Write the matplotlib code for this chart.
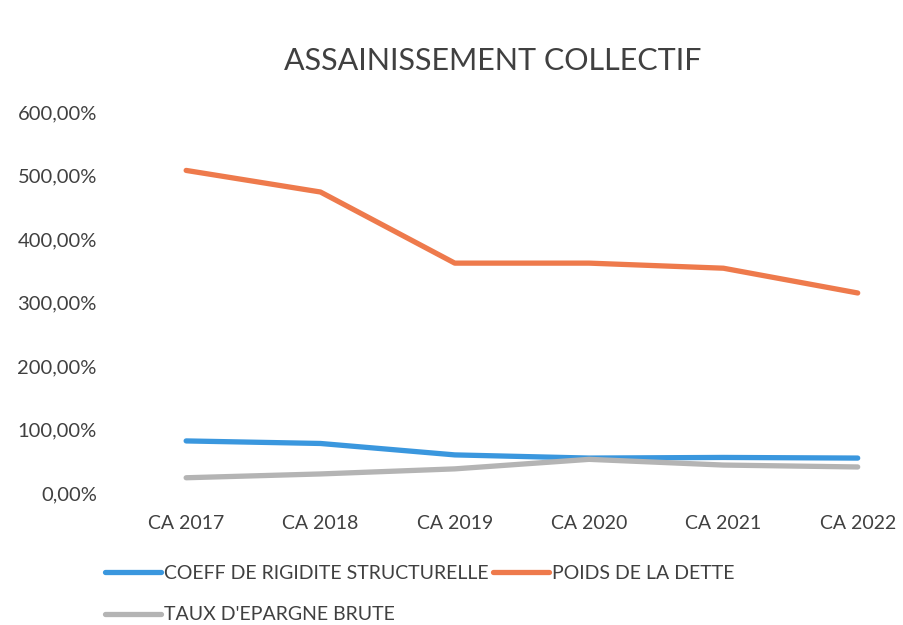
import matplotlib
matplotlib.use("Agg")
import matplotlib.pyplot as plt
from matplotlib.ticker import FuncFormatter

categories = ["CA 2017", "CA 2018", "CA 2019", "CA 2020", "CA 2021", "CA 2022"]
coeff_rigidite = [82, 78, 60, 55, 56, 55]
poids_dette = [508, 474, 362, 362, 354, 315]
taux_epargne = [24, 30, 38, 53, 44, 41]

plt.rcParams['font.family'] = ['Lato', 'DejaVu Sans']
text_color = "#404040"

fig = plt.figure(figsize=(9.04, 6.25), dpi=100)
ax = fig.add_axes([119/904, (625-493)/625, (898-119)/904, (493-112)/625])

x = list(range(len(categories)))
l1, = ax.plot(x, coeff_rigidite, color="#3A97DE", lw=3.8, solid_capstyle="round",
              label="COEFF DE RIGIDITE STRUCTURELLE")
l2, = ax.plot(x, poids_dette, color="#EE7A4C", lw=3.8, solid_capstyle="round",
              label="POIDS DE LA DETTE")
l3, = ax.plot(x, taux_epargne, color="#B4B4B4", lw=3.8, solid_capstyle="round",
              label="TAUX D'EPARGNE BRUTE")

ax.set_xlim(-0.5, 5.3)
ax.set_ylim(0, 600)
ax.set_yticks([0, 100, 200, 300, 400, 500, 600])
ax.yaxis.set_major_formatter(FuncFormatter(lambda v, p: f"{v:.2f}".replace(".", ",") + "%"))
ax.set_xticks(x)
ax.set_xticklabels(categories)
for s in ax.spines.values():
    s.set_visible(False)
ax.tick_params(axis="both", length=0, labelsize=14, colors=text_color)
ax.tick_params(axis="y", labelsize=14.5, pad=16)
ax.tick_params(axis="x", pad=16)

fig.text(0.545, 0.902, "ASSAINISSEMENT COLLECTIF", ha="center", va="center",
         fontsize=22, color=text_color)

leg = fig.legend(handles=[l1, l3, l2], ncol=2, loc="upper left",
                 bbox_to_anchor=(105/904, 1 - 565/625), frameon=False,
                 fontsize=14, handlelength=2.9, handletextpad=0.15,
                 columnspacing=0.2, labelspacing=1.25, borderaxespad=0,
                 borderpad=0)
for t in leg.get_texts():
    t.set_color(text_color)

fig.savefig("out.png", dpi=100, facecolor="white")
